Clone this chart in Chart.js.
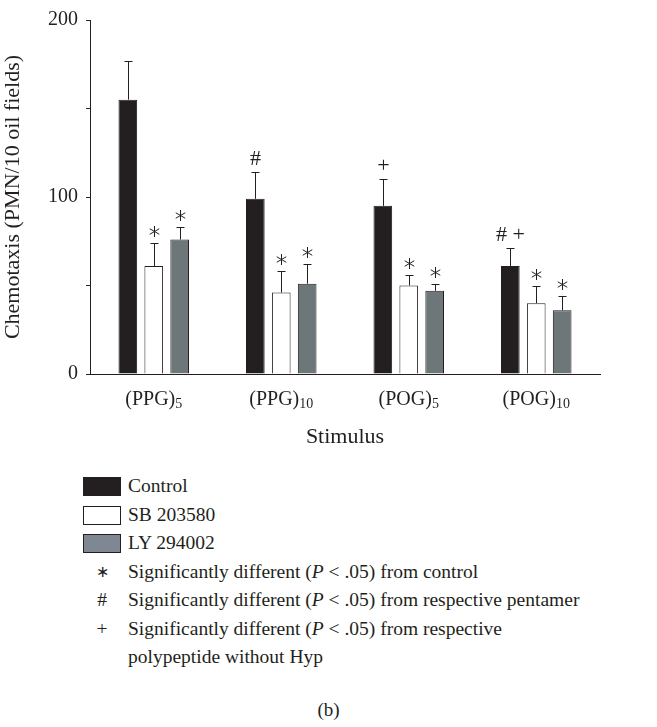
<!DOCTYPE html>
<html>
<head>
<meta charset="utf-8">
<script src="https://cdn.jsdelivr.net/npm/chart.js@4.4.0/dist/chart.umd.min.js"></script>
<style>
  body { margin: 0; background: #fff; font-family: "Liberation Serif", serif; color: #231f20; }
  #wrap { position: relative; width: 657px; height: 450px; }
  #legend { position: absolute; left: 0; top: 472px; width: 657px; font-size: 19.5px; }
  .row { position: absolute; left: 0; height: 28px; line-height: 28px; white-space: nowrap; }
  .box { position: absolute; left: 83px; width: 36px; height: 17px; border: 1px solid #231f20; }
  .sym { position: absolute; left: 92px; width: 20px; text-align: center; }
  .txt { position: absolute; left: 128px; }
  #cap { position: absolute; left: 0; width: 657px; top: 699px; text-align: center; font-size: 19px; }
</style>
</head>
<body>
<div id="wrap"><canvas id="chart" width="657" height="450"></canvas></div>
<div id="legend"></div>
<div id="cap">(b)</div>
<script>
//categories and their subscripts
const categories = ["(PPG)", "(PPG)", "(POG)", "(POG)"];
const subscripts = ["5", "10", "5", "10"];

//series means and upper error (mean + SE)
const controlValues = [155, 99, 95, 61];
const sbValues = [61, 46, 50, 40];
const lyValues = [76, 51, 47, 36];
const controlErr = [177, 114, 110, 71];
const sbErr = [74, 58, 56, 50];
const lyErr = [83, 62, 51, 44];

//significance marks above each bar
const controlMarks = ["", "#", "+", "# +"];
const sbMarks = ["\u2217", "\u2217", "\u2217", "\u2217"];
const lyMarks = ["\u2217", "\u2217", "\u2217", "\u2217"];

const yLabels = [0, 100, 200];

const seriesNames = ["Control", "SB 203580", "LY 294002"];
const barColors = ["#231f20", "#ffffff", "#6d7679"];
const legendColors = ["#231f20", "#ffffff", "#7f8892"];

const FONT = "Liberation Serif";

//thin six-armed asterisk like the original
function drawStar(ctx, cx, cy, r) {
  ctx.beginPath();
  for (let k = 0; k < 3; k++) {
    const a = Math.PI / 2 + (k * Math.PI) / 3;
    ctx.moveTo(cx - r * Math.cos(a), cy - r * Math.sin(a));
    ctx.lineTo(cx + r * Math.cos(a), cy + r * Math.sin(a));
  }
  ctx.stroke();
}

//draws error bars, marks and the subscripted category labels
const extras = {
  id: "extras",
  afterDatasetsDraw(chart) {
    const ctx = chart.ctx;
    const y = chart.scales.y;
    const x = chart.scales.x;
    ctx.save();
    ctx.strokeStyle = "#231f20";
    ctx.fillStyle = "#231f20";
    ctx.lineWidth = 1;
    chart.data.datasets.forEach((ds, di) => {
      const meta = chart.getDatasetMeta(di);
      meta.data.forEach((bar, i) => {
        const cx = Math.round(bar.x) + 0.5;
        const top = y.getPixelForValue(ds.data[i]);
        const et = Math.round(y.getPixelForValue(ds.err[i])) + 0.5;
        ctx.beginPath();
        ctx.moveTo(cx, top);
        ctx.lineTo(cx, et);
        ctx.moveTo(cx - 4, et);
        ctx.lineTo(cx + 4, et);
        ctx.stroke();
        const m = ds.marks[i];
        if (m === "\u2217") {
          drawStar(ctx, cx, et - 12, 5.5);
        } else if (m) {
          ctx.font = "22px '" + FONT + "'";
          ctx.textAlign = "center";
          ctx.textBaseline = "middle";
          ctx.fillText(m, cx, et - 13);
        }
      });
    });
    //category labels with subscripts
    x.ticks.forEach((t, i) => {
      const px = x.getPixelForTick(i);
      ctx.font = "20px '" + FONT + "'";
      const w1 = ctx.measureText(categories[i]).width;
      ctx.font = "14px '" + FONT + "'";
      const w2 = ctx.measureText(subscripts[i]).width;
      const left = px - (w1 + w2) / 2;
      ctx.textAlign = "left";
      ctx.textBaseline = "alphabetic";
      ctx.font = "20px '" + FONT + "'";
      ctx.fillText(categories[i], left, 405);
      ctx.font = "14px '" + FONT + "'";
      ctx.fillText(subscripts[i], left + w1, 408);
    });
    ctx.restore();
  },
};

new Chart(document.getElementById("chart"), {
  type: "bar",
  plugins: [extras],
  data: {
    labels: categories,
    datasets: [
      { label: seriesNames[0], data: controlValues, err: controlErr, marks: controlMarks, backgroundColor: barColors[0] },
      { label: seriesNames[1], data: sbValues, err: sbErr, marks: sbMarks, backgroundColor: barColors[1] },
      { label: seriesNames[2], data: lyValues, err: lyErr, marks: lyMarks, backgroundColor: barColors[2] },
    ].map((d) => Object.assign(d, {
      borderColor: "#231f20",
      borderWidth: 1,
      categoryPercentage: 0.61,
      barPercentage: 0.72,
    })),
  },
  options: {
    responsive: false,
    animation: false,
    layout: { padding: { top: 12, right: 57, left: 0, bottom: 0 } },
    plugins: { legend: { display: false }, tooltip: { enabled: false } },
    scales: {
      x: {
        grid: { display: false },
        border: { display: true, color: "#231f20", width: 1 },
        ticks: { display: false },
        title: {
          display: true,
          text: "Stimulus",
          color: "#231f20",
          font: { family: FONT, size: 22 },
          padding: { top: 44, bottom: 0 },
        },
        afterFit(s) { s.height = 76; },
      },
      y: {
        min: 0,
        max: 200,
        grid: { display: true, drawOnChartArea: false, drawTicks: true, tickLength: 4, color: "#231f20" },
        border: { display: true, color: "#231f20", width: 1 },
        ticks: {
          stepSize: 50,
          padding: 8,
          color: "#231f20",
          font: { family: FONT, size: 20 },
          callback: (v) => (yLabels.includes(v) ? String(v) : ""),
        },
        title: {
          display: true,
          text: "Chemotaxis (PMN/10 oil fields)",
          color: "#231f20",
          font: { family: FONT, size: 22 },
          padding: { top: 0, bottom: 6 },
        },
        afterFit(s) { s.width = 90; },
      },
    },
  },
});

//legend below the chart
const legendRows = [
  { box: legendColors[0], text: seriesNames[0] },
  { box: legendColors[1], text: seriesNames[1] },
  { box: legendColors[2], text: seriesNames[2] },
  { sym: "\u2217", text: "Significantly different (<i>P</i> &lt; .05) from control" },
  { sym: "#", text: "Significantly different (<i>P</i> &lt; .05) from respective pentamer" },
  { sym: "+", text: "Significantly different (<i>P</i> &lt; .05) from respective" },
  { sym: "", text: "polypeptide without Hyp" },
];
const legend = document.getElementById("legend");
legendRows.forEach((r, i) => {
  const row = document.createElement("div");
  row.className = "row";
  row.style.top = i * 28.5 + "px";
  row.style.width = "657px";
  let html = "";
  if (r.box) html += '<div class="box" style="top:5px;background:' + r.box + '"></div>';
  if (r.sym) html += '<div class="sym"' + (r.sym === "\u2217" ? ' style="font-weight:200;font-size:16px"' : "") + ">" + r.sym + "</div>";
  html += '<div class="txt">' + r.text + "</div>";
  row.innerHTML = html;
  legend.appendChild(row);
});
</script>
</body>
</html>
